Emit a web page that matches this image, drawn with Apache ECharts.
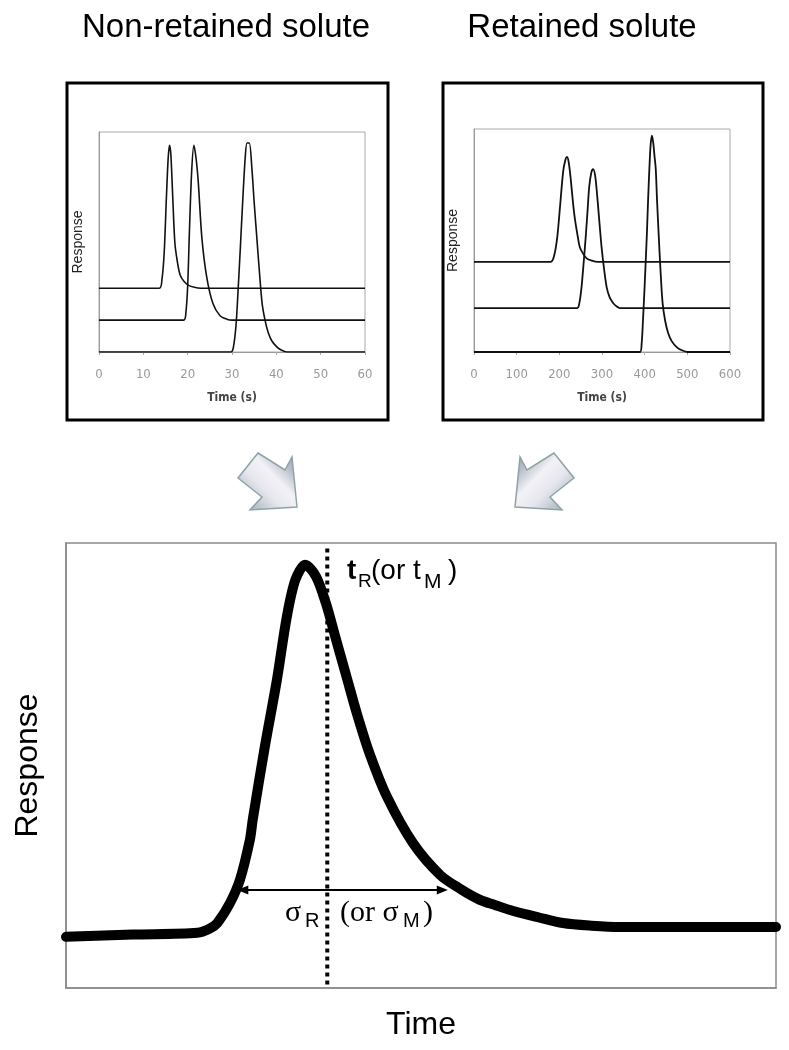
<!DOCTYPE html>
<html><head><meta charset="utf-8">
<script src="https://cdn.jsdelivr.net/npm/echarts@6/dist/echarts.min.js"></script>
<style>html,body{margin:0;padding:0;background:#fff}#c{width:789px;height:1050px}</style>
</head><body><div id="c"></div>
<script>
const SANS = "'Liberation Sans', Arial, Helvetica, sans-serif";
const SERIF = "'Liberation Serif', 'Times New Roman', serif";
const NARROW = "'Liberation Sans Narrow', 'DejaVu Sans Condensed', 'Liberation Sans', sans-serif";

// ---- text ----
const panelTitles = ['Non-retained solute', 'Retained solute'];
const smallXName = 'Time (s)';
const smallYName = 'Response';
const mainXName = 'Time';
const mainYName = 'Response';

// ---- small chart axes ----
const nonRetainedAxis = { min: 0, max: 60, interval: 10 };
const retainedAxis = { min: 0, max: 600, interval: 100 };

// ---- non-retained solute traces [time s, response] ----
const nonRetainedTop = [[0,29],[13.6,29],[14.2,33],[14.7,45],[15.2,70],[15.6,88],[15.9,94],[16.2,90],[16.6,72],[17.1,50],[17.6,42],[18.3,35],[19.2,32],[20.2,30.3],[21.5,29.4],[23,29],[60,29]];
const nonRetainedMid = [[0,14.5],[19.1,14.5],[19.6,18],[20,30],[20.4,55],[20.9,82],[21.4,94],[21.9,88],[22.4,77],[23.2,52],[24.3,34],[25.7,22],[27.3,16.5],[29,14.8],[30,14.5],[60,14.5]];
const nonRetainedLow = [[0,0],[29.8,0],[30.3,2],[30.9,12],[31.4,29],[31.9,48],[32.4,68],[33,89],[33.4,95],[33.9,95],[34.5,83],[35,68],[35.6,52],[36.2,36],[36.8,22],[37.5,14],[38.2,8.6],[39,5],[40.1,2.3],[41,1],[42.4,0],[60,0]];

// ---- retained solute traces [time s, response] ----
const retainedTop = [[0,40.4],[180,40.4],[186,42],[191,46],[196,53],[202,66],[209,81],[214,86],[218,87.5],[222,85],[227,77],[232,67],[237,59],[243,52],[248,47],[256,44],[264,42],[276,41],[290,40.4],[600,40.4]];
const retainedMid = [[0,19.7],[242,19.7],[247,22],[252,29],[257,40],[262,52],[266,63],[270,74],[275,80.5],[279,82],[284,79],[289,69.5],[294,58],[299,47],[305,37],[311,29],[318,24.5],[326,22],[334,20.5],[342,19.7],[600,19.7]];
const retainedLow = [[0,0],[389,0],[393,4],[396,14],[400,30],[405,52],[408,68],[411,82],[414,93],[417,97],[420,94],[423,88],[426,82],[429,68],[433,52],[437,37],[442,22],[448,14],[455,8.5],[463,5],[475,2.2],[487,0.8],[500,0],[600,0]];

// ---- main peak [time, response] (arbitrary units) ----
const mainPeak = [[0,11.5],[9.4,12],[18.5,12.4],[20.2,13.3],[21.3,14.6],[23.1,19.1],[24.5,24.3],[25.9,33.3],[26.3,37.8],[28,54.2],[29.7,69.2],[31.1,83.4],[32.3,91.7],[33.7,95.1],[35.2,92.5],[36.6,86.5],[38,78.5],[39.5,70],[41,61.5],[42.8,52.5],[45.2,43],[48.9,32.5],[52.7,25.4],[55.5,22.3],[58.3,19.8],[60.5,18.6],[63,17.3],[66.5,15.9],[70,14.6],[74,14],[78,13.7],[100,13.7]];
const retentionTime = 36.8;
const retentionLine = [[retentionTime, 0.8], [retentionTime, 99]];
const sigmaSpan = [[24.9, 22], [53.0, 22]];

const chart = echarts.init(document.getElementById('c'), null, { renderer: 'canvas' });

function smallX(gi, ax) {
  return {
    gridIndex: gi, type: 'value', min: ax.min, max: ax.max, interval: ax.interval,
    name: smallXName, nameLocation: 'middle', nameGap: 40,
    nameTextStyle: { fontFamily: NARROW, fontSize: 12, fontWeight: 'bold', color: '#444' },
    axisLine: { show: true, lineStyle: { color: '#999', width: 1 } },
    axisTick: { show: true, length: 3, lineStyle: { color: '#aaa' } },
    axisLabel: { fontFamily: NARROW, fontSize: 13, color: '#999', margin: 16 },
    splitLine: { show: false }
  };
}
function smallY(gi) {
  return {
    gridIndex: gi, type: 'value', min: 0, max: 100,
    name: smallYName, nameLocation: 'middle', nameGap: 14,
    nameTextStyle: { fontFamily: SANS, fontSize: 14, color: '#222' },
    axisLine: { show: true, lineStyle: { color: '#999', width: 1 } },
    axisTick: { show: false }, axisLabel: { show: false }, splitLine: { show: false }
  };
}
function trace(data, gi, w) {
  return {
    type: 'line', xAxisIndex: gi, yAxisIndex: gi, data: data, smooth: 0.3,
    symbol: 'none', lineStyle: { color: '#111', width: w }, silent: true, animation: false, z: 5
  };
}

const leftArrowPts = [[258,453],[285,470],[292,457],[297,507],[250,510],[262,497],[238,478]];
const rightArrowPts = leftArrowPts.map(p => [812 - p[0], p[1]]);
function arrowFill(flip) {
  return new echarts.graphic.LinearGradient(flip ? 1 : 0, 1, flip ? 0 : 1, 0, [
    { offset: 0, color: '#8fa2a8' },
    { offset: 0.4, color: '#e6e6ee' },
    { offset: 0.6, color: '#f2f2f6' },
    { offset: 0.8, color: '#b8bcc8' },
    { offset: 1, color: '#8a9ca2' }
  ]);
}

function txt(x, y, text, size, family, opts) {
  return {
    type: 'text', x: x, y: y, silent: true, z: 100,
    style: Object.assign({ text: text, fontSize: size, fontFamily: family, fill: '#000', verticalAlign: 'middle', align: 'left' }, opts || {})
  };
}

const option = {
  backgroundColor: '#fff',
  animation: false,
  grid: [
    { left: 99, top: 132, width: 266, height: 220, show: true, borderColor: '#aaa', borderWidth: 1, containLabel: false, outerBoundsMode: 'none' },
    { left: 474, top: 129, width: 256, height: 223, show: true, borderColor: '#aaa', borderWidth: 1, containLabel: false, outerBoundsMode: 'none' },
    { left: 66, top: 543, width: 710, height: 445, show: true, borderColor: '#8a8a8a', borderWidth: 1.5, containLabel: false, outerBoundsMode: 'none' }
  ],
  xAxis: [
    smallX(0, nonRetainedAxis),
    smallX(1, retainedAxis),
    {
      gridIndex: 2, type: 'value', min: 0, max: 100,
      name: mainXName, nameLocation: 'middle', nameGap: 21,
      nameTextStyle: { fontFamily: SANS, fontSize: 32, color: '#000' },
      axisLine: { show: true, lineStyle: { color: '#8a8a8a', width: 1.5 } },
      axisTick: { show: false }, axisLabel: { show: false }, splitLine: { show: false }
    }
  ],
  yAxis: [
    smallY(0), smallY(1),
    {
      gridIndex: 2, type: 'value', min: 0, max: 100,
      name: mainYName, nameLocation: 'middle', nameGap: 22,
      nameTextStyle: { fontFamily: SANS, fontSize: 32, color: '#000' },
      axisLine: { show: true, lineStyle: { color: '#8a8a8a', width: 1.5 } },
      axisTick: { show: false }, axisLabel: { show: false }, splitLine: { show: false }
    }
  ],
  series: [
    trace(nonRetainedTop, 0, 1.6),
    trace(nonRetainedMid, 0, 1.6),
    trace(nonRetainedLow, 0, 1.6),
    trace(retainedTop, 1, 1.8),
    trace(retainedMid, 1, 1.8),
    trace(retainedLow, 1, 1.8),
    {
      type: 'line', xAxisIndex: 2, yAxisIndex: 2, data: mainPeak, smooth: 0.3,
      symbol: 'none', silent: true, z: 5,
      lineStyle: { color: '#000', width: 10, cap: 'round', join: 'round' }
    },
    {
      type: 'line', xAxisIndex: 2, yAxisIndex: 2, data: retentionLine,
      symbol: 'none', silent: true, z: 6,
      lineStyle: { color: '#000', width: 4, type: [4, 4] },
      markLine: {
        silent: true, symbol: ['triangle', 'triangle'], symbolSize: [9, 11],
        label: { show: false },
        lineStyle: { color: '#000', width: 2, type: 'solid' },
        data: [[{ coord: sigmaSpan[0] }, { coord: sigmaSpan[1] }]]
      }
    }
  ],
  graphic: [
    { type: 'rect', shape: { x: 67, y: 83, width: 321, height: 337 }, style: { fill: 'none', stroke: '#000', lineWidth: 3 }, silent: true, z: 50 },
    { type: 'rect', shape: { x: 443, y: 83, width: 320, height: 337 }, style: { fill: 'none', stroke: '#000', lineWidth: 3 }, silent: true, z: 50 },
    txt(226, 28, panelTitles[0], 33, SANS, { align: 'center' }),
    txt(582, 28, panelTitles[1], 33, SANS, { align: 'center' }),
    { type: 'polygon', shape: { points: leftArrowPts }, style: { fill: arrowFill(false), stroke: '#8fa3a6', lineWidth: 1.5 }, silent: true, z: 50 },
    { type: 'polygon', shape: { points: rightArrowPts }, style: { fill: arrowFill(true), stroke: '#8fa3a6', lineWidth: 1.5 }, silent: true, z: 50 },
    // t_R (or t_M)
    txt(347, 571, 't', 28, SANS, { fontWeight: 'bold' }),
    txt(358, 582, 'R', 19, SANS),
    txt(371, 571, '(or t', 28, SANS),
    txt(424, 582, 'M', 21, SANS),
    txt(448, 571, ')', 28, SANS),
    // sigma_R (or sigma_M)
    txt(285, 913, 'σ', 30, SERIF),
    txt(305, 921, 'R', 20, SANS),
    txt(340, 913, '(or σ', 30, SERIF),
    txt(403, 921, 'M', 20, SANS),
    txt(423, 913, ')', 30, SERIF)
  ]
};
chart.setOption(option);
</script>
</body></html>
